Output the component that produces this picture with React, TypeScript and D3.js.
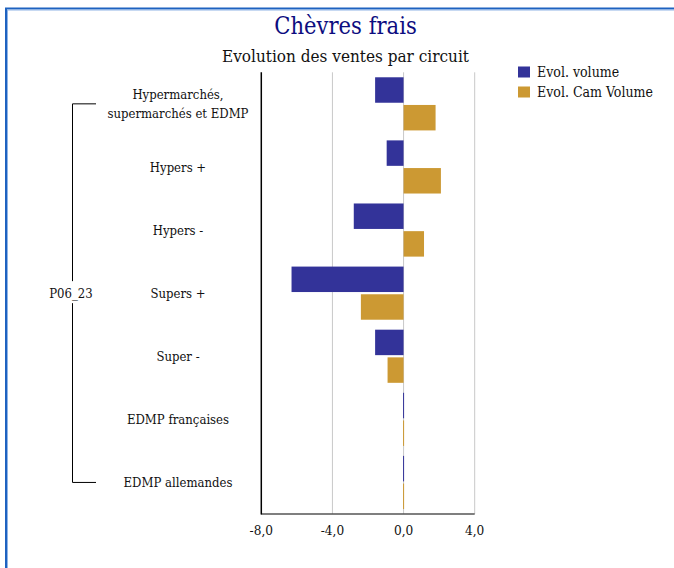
import React from "react";
import * as d3 from "d3";

const categories = [
  "Hypermarchés,\nsupermarchés et EDMP",
  "Hypers +",
  "Hypers -",
  "Supers +",
  "Super -",
  "EDMP françaises",
  "EDMP allemandes",
];
const seriesNames = ["Evol. volume", "Evol. Cam Volume"];
const evolVolume = [-1.6, -0.95, -2.8, -6.3, -1.6, 0, 0];
const evolCamVolume = [1.8, 2.1, 1.15, -2.4, -0.9, 0, 0];
const xTicks = [-8, -4, 0, 4];
const groupLabel = "P06_23";
const title = "Chèvres frais";
const subtitle = "Evolution des ventes par circuit";

const W = 674;
const H = 568;
const FONT = "'DejaVu Serif', serif";
const colors = ["#333399", "#CC9933"];

export default function App() {
  const x = d3.scaleLinear().domain([-8, 4]).range([261.3, 474.7]);
  const y = d3.scaleBand<string>().domain(categories).range([72.3, 514]).paddingInner(0).paddingOuter(0);
  const sub = d3.scaleBand<string>().domain(seriesNames).range([0, y.bandwidth()]).paddingInner(0.08).paddingOuter(0.18);
  const series = [evolVolume, evolCamVolume];
  const fmt = (v: number) => d3.format(".1f")(v).replace(".", ",").replace("\u2212", "-");
  const labelX = 178;
  const firstC = (y(categories[0]) as number) + y.bandwidth() / 2;
  const lastC = (y(categories[categories.length - 1]) as number) + y.bandwidth() / 2;
  const midC = (firstC + lastC) / 2;

  return (
    <svg width={W} height={H} style={{ position: "absolute", left: 0, top: 0, background: "#fff" }} fontFamily={FONT} fontStretch="condensed">
      <rect x={0} y={0} width={W} height={H} fill="#fff" />
      <path d={`M6,${H + 5} L6,8.5 L${W + 5},8.5`} fill="none" stroke="#1e62c0" strokeWidth={2} />
      <path d={`M7.5,${H + 5} L7.5,10 L${W + 5},10`} fill="none" stroke="#8fb4e6" strokeWidth={1} />
      <text x={345.5} y={34} textAnchor="middle" fontSize={23.5} fill="#0d0d80">{title}</text>
      <text x={345.5} y={62} textAnchor="middle" fontSize={17} fill="#111">{subtitle}</text>
      {xTicks.filter((t) => t !== -8).map((t) => (
        <line key={t} x1={x(t)} x2={x(t)} y1={72.3} y2={514} stroke="#c8c8c8" strokeWidth={1} />
      ))}
      {categories.map((c, i) =>
        series.map((s, j) => {
          const v = s[i];
          const x0 = Math.min(x(0), x(v));
          const w = Math.max(1, Math.abs(x(v) - x(0)));
          return (
            <rect
              key={c + j}
              x={v === 0 ? x(0) - 0.5 : x0}
              y={(y(c) as number) + (sub(seriesNames[j]) as number)}
              width={w}
              height={sub.bandwidth()}
              fill={colors[j]}
            />
          );
        })
      )}
      <line x1={261.3} x2={474.7} y1={514} y2={514} stroke="#555" strokeWidth={1.5} />
      <line x1={261.3} x2={261.3} y1={72.3} y2={514.5} stroke="#000" strokeWidth={1.5} />
      {xTicks.map((t) => (
        <text key={t} x={x(t)} y={535} textAnchor="middle" fontSize={13.5} fill="#111">{fmt(t)}</text>
      ))}
      {categories.map((c) => {
        const lines = c.split("\n");
        const cy = (y(c) as number) + y.bandwidth() / 2;
        const lh = 19;
        return (
          <text key={c} x={labelX} textAnchor="middle" fontSize={13} fill="#111">
            {lines.map((l, k) => (
              <tspan key={k} x={labelX} y={cy + 5 + (k - (lines.length - 1) / 2) * lh}>{l}</tspan>
            ))}
          </text>
        );
      })}
      <path d={`M96,${firstC} H72.5 V${midC - 12}`} fill="none" stroke="#000" strokeWidth={1} />
      <path d={`M72.5,${midC + 10} V${lastC} H96`} fill="none" stroke="#000" strokeWidth={1} />
      <text x={71} y={midC + 5} textAnchor="middle" fontSize={13} fill="#111">{groupLabel}</text>
      {seriesNames.map((n, j) => (
        <g key={n} transform={`translate(518, ${66.5 + j * 20})`}>
          <rect width={12} height={11} fill={colors[j]} />
          <text x={19} y={10} fontSize={14} fill="#111">{n}</text>
        </g>
      ))}
    </svg>
  );
}
